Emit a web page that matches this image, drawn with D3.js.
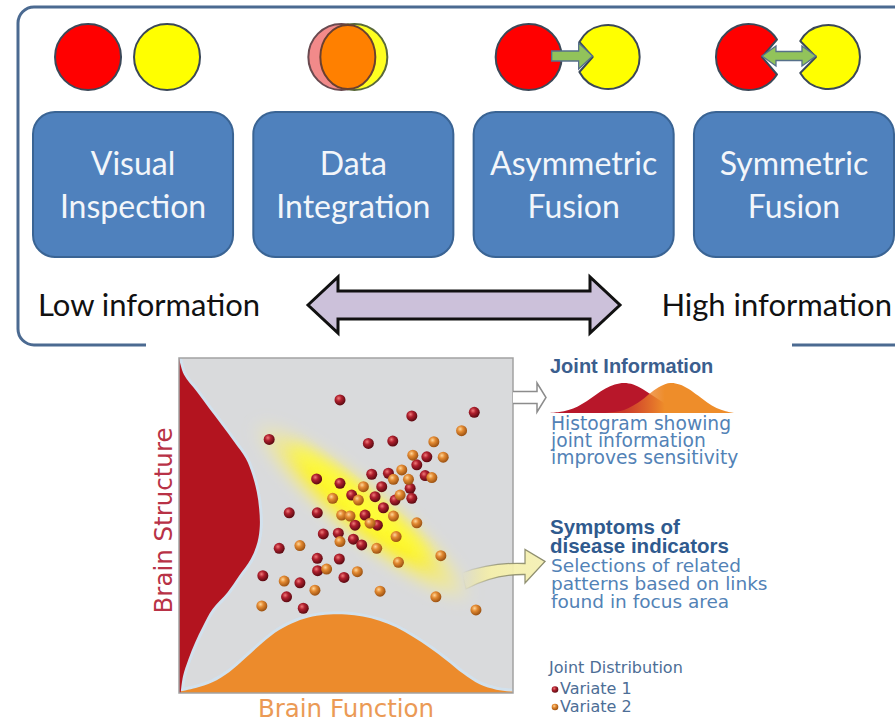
<!DOCTYPE html>
<html><head><meta charset="utf-8">
<script src="https://cdn.jsdelivr.net/npm/d3@7"></script>
<style>html,body{margin:0;padding:0;background:#fff;} svg{display:block;}</style>
</head><body>
<svg id="chart" width="895" height="718"></svg>
<script>
// ---------------- DATA ----------------
const stages = ["Visual Inspection", "Data Integration", "Asymmetric Fusion", "Symmetric Fusion"];
const stageLines = [["Visual", "Inspection"], ["Data", "Integration"], ["Asymmetric", "Fusion"], ["Symmetric", "Fusion"]];
const stageIcons = ["separate", "overlap", "asymmetric", "symmetric"];
const infoLabels = ["Low information", "High information"];

const axisLabels = {x: "Brain Function", y: "Brain Structure"};
const densityPos = [0,5,10,15,20,25,30,35,40,45,50,55,60,65,70,75,80,85,90,95,100];
const functionDensity = [0.4,1.5,3.2,6.2,10.5,15,18.8,21.3,22.8,23.4,23.4,22.8,21.6,19.6,16.8,13.5,9.8,5.8,2.6,1,0.4];
const structureDensity = [0.5,1.2,2.8,4.8,7.2,10,14.5,18,21.5,23.5,24.2,24,23.3,22,20,16.5,12.8,9,5.3,1.5,0];

const variate1 = [[48.2,87.5],[27.0,75.7],[56.7,74.5],[41.2,63.9],[48.2,62.6],[57.7,65.3],[51.7,59.1],[58.7,58.6],
  [33.0,53.8],[41.4,53.8],[55.7,53.1],[52.7,50.1],[59.4,50.1],[43.2,47.5],[47.7,47.7],[52.2,45.9],[54.7,44.2],
  [30.0,43.2],[41.4,40.2],[48.0,40.0],[41.5,36.5],[49.4,34.5],[25.1,35.0],[36.2,32.9],[32.2,28.7],[37.2,25.3],
  [69.7,82.7],[88.4,83.8],[64.0,75.2],[74.2,70.5],[71.2,68.1],[62.7,65.6],[73.7,64.9],[60.7,61.6],[69.2,61.1],
  [64.7,57.6],[69.7,58.1],[61.2,55.3]];
const variate2 = [[55.2,61.6],[53.7,57.6],[46.0,58.1],[48.7,53.1],[51.2,52.8],[57.2,50.7],[48.2,45.2],[59.2,43.2],
  [36.2,44.0],[44.2,37.0],[53.4,36.2],[31.5,33.4],[40.7,30.7],[24.8,26.0],[84.6,78.3],[76.3,75.0],[70.0,71.0],
  [79.1,70.4],[66.7,66.6],[64.2,63.8],[68.7,63.8],[75.7,64.3],[66.2,59.1],[64.2,52.8],[71.2,50.8],[65.0,46.7],
  [78.4,41.0],[65.7,39.0],[60.2,30.4],[76.9,28.7],[88.9,24.8]];
const focusBand = {from: [22, 81], to: [88, 27]};

const jointPos = [0,5,10,15,20,25,30,35,40,45,50,55,60,65,70,75,80,85,90,95,100];
const jointVariate1 = [0,0.03,0.1,0.22,0.4,0.62,0.82,0.95,1.0,0.95,0.8,0.6,0.4,0.22,0.1,0.03,0,0,0,0,0];
const jointVariate2 = [0,0,0,0,0,0,0,0.03,0.1,0.25,0.45,0.7,0.9,1.0,0.95,0.8,0.58,0.35,0.17,0.06,0];

const jointTitle = "Joint Information";
const jointText = ["Histogram showing", "joint information", "improves sensitivity"];
const symptomTitle = ["Symptoms of", "disease indicators"];
const symptomText = ["Selections of related", "patterns based on links", "found in focus area"];
const legendTitle = "Joint Distribution";
const legendItems = ["Variate 1", "Variate 2"];

// ---------------- DRAW ----------------
const svg = d3.select("#chart");
const defs = svg.append("defs");
svg.append("rect").attr("width", 895).attr("height", 718).attr("fill", "#fff");

// ---- top panel ----
svg.append("rect").attr("x", 18).attr("y", 7).attr("width", 905).attr("height", 338).attr("rx", 16)
  .attr("fill", "#fff").attr("stroke", "#4b6a91").attr("stroke-width", 3);

const xb = d3.scaleBand().domain(stages).range([33, 894]).paddingInner(0.092);
const bw = xb.bandwidth();
const cyIcon = 57, rIcon = 33;
const circleStroke = "#3b4858";

const stageG = svg.selectAll("g.stage").data(stages).join("g").attr("class", "stage");
stageG.append("rect").attr("x", d => xb(d)).attr("y", 112).attr("width", bw).attr("height", 145).attr("rx", 22)
  .attr("fill", "#4f81bd").attr("stroke", "#3a6494").attr("stroke-width", 2);
stageG.each(function(d, i) {
  const g = d3.select(this);
  const cx = xb(d) + bw / 2;
  stageLines[i].forEach((t, j) => {
    g.append("text").attr("x", cx).attr("y", 175 + j * 43).attr("text-anchor", "middle")
      .attr("font-family", "Lato, 'Open Sans', sans-serif").attr("font-size", 32).attr("fill", "#f3f6fa").text(t);
  });
});

function mouthPath(cx, cy, r, dir, halfDeg, depth) {
  const h = halfDeg * Math.PI / 180;
  const p = a => [cx + r * Math.cos(a), cy + r * Math.sin(a)];
  let p1, p2, sweep;
  if (dir < 0) { p1 = p(Math.PI + h); p2 = p(Math.PI - h); sweep = 1; }
  else { p1 = p(-h); p2 = p(h); sweep = 0; }
  return `M${p1[0]},${p1[1]} A${r},${r} 0 1 ${sweep} ${p2[0]},${p2[1]} L${cx + dir * depth},${cy} Z`;
}
const arrowLine = d3.line();
const greenFill = "#92c35a", greenStroke = "#56708a";

stageIcons.forEach((type, i) => {
  const c = xb(stages[i]) + bw / 2;
  const g = svg.append("g");
  const redX = c - 45, yelX = c + 34;
  if (type === "separate") {
    g.append("circle").attr("cx", redX).attr("cy", cyIcon).attr("r", rIcon).attr("fill", "#ff0000").attr("stroke", circleStroke).attr("stroke-width", 2);
    g.append("circle").attr("cx", yelX).attr("cy", cyIcon).attr("r", rIcon).attr("fill", "#ffff00").attr("stroke", circleStroke).attr("stroke-width", 2);
  } else if (type === "overlap") {
    g.append("circle").attr("cx", c - 12).attr("cy", cyIcon).attr("r", rIcon).attr("fill", "#f28a8a").attr("stroke", "#6a4a50").attr("stroke-width", 2);
    g.append("circle").attr("cx", c + 1).attr("cy", cyIcon).attr("r", rIcon).attr("fill", "#ffff20").attr("stroke", "#5a6a3a").attr("stroke-width", 2);
    g.append("ellipse").attr("cx", c - 5.5).attr("cy", cyIcon).attr("rx", 27.5).attr("ry", 32).attr("fill", "#ff8000").attr("stroke", "#6a4030").attr("stroke-width", 2);
  } else if (type === "asymmetric") {
    g.append("circle").attr("cx", redX).attr("cy", cyIcon).attr("r", rIcon).attr("fill", "#ff0000").attr("stroke", circleStroke).attr("stroke-width", 2);
    g.append("path").attr("d", mouthPath(yelX, cyIcon, 32, -1, 28, 15)).attr("fill", "#ffff00").attr("stroke", circleStroke).attr("stroke-width", 2).attr("stroke-linejoin", "round");
    const a0 = redX + 23, tip = yelX - 15, cy = cyIcon - 1;
    g.append("path").attr("d", arrowLine([[a0, cy - 5], [tip - 14, cy - 5], [tip - 14, cy - 13], [tip, cy], [tip - 14, cy + 13], [tip - 14, cy + 5], [a0, cy + 5]]) + "Z")
      .attr("fill", greenFill).attr("stroke", greenStroke).attr("stroke-width", 1.3);
  } else {
    g.append("path").attr("d", mouthPath(redX, cyIcon, rIcon, 1, 32, 13)).attr("fill", "#ff0000").attr("stroke", circleStroke).attr("stroke-width", 2).attr("stroke-linejoin", "round");
    g.append("path").attr("d", mouthPath(yelX, cyIcon, 32, -1, 30, 12)).attr("fill", "#ffff00").attr("stroke", circleStroke).attr("stroke-width", 2).attr("stroke-linejoin", "round");
    const l = redX + 13, r = yelX - 12, cy = cyIcon - 1;
    g.append("path").attr("d", arrowLine([[l, cy], [l + 14, cy - 10], [l + 14, cy - 4.5], [r - 14, cy - 4.5], [r - 14, cy - 10], [r, cy],
      [r - 14, cy + 10], [r - 14, cy + 4.5], [l + 14, cy + 4.5], [l + 14, cy + 10]]) + "Z")
      .attr("fill", greenFill).attr("stroke", greenStroke).attr("stroke-width", 1.3);
  }
});

// information double arrow
{
  const L = 308, R = 620, cy = 305, hh = 28, sh = 14, hl = 30;
  svg.append("path").attr("d", arrowLine([[L, cy], [L + hl, cy - hh], [L + hl, cy - sh], [R - hl, cy - sh], [R - hl, cy - hh], [R, cy],
    [R - hl, cy + hh], [R - hl, cy + sh], [L + hl, cy + sh], [L + hl, cy + hh]]) + "Z")
    .attr("fill", "#ccc1da").attr("stroke", "#111").attr("stroke-width", 3).attr("stroke-linejoin", "miter");
}
svg.append("text").attr("x", 38).attr("y", 316).attr("font-family", "Lato, sans-serif").attr("font-size", 31).attr("fill", "#111").text(infoLabels[0]);
svg.append("text").attr("x", 892).attr("y", 316).attr("text-anchor", "end").attr("font-family", "Lato, sans-serif").attr("font-size", 31).attr("fill", "#111").text(infoLabels[1]);

// ---- lower panel (covers the panel border) ----
svg.append("rect").attr("x", 146).attr("y", 340).attr("width", 646).attr("height", 378).attr("fill", "#fff");

const x = d3.scaleLinear().domain([0, 100]).range([179, 513]);
const y = d3.scaleLinear().domain([0, 100]).range([693, 358]);

defs.append("clipPath").attr("id", "plotClip").append("rect")
  .attr("x", x(0)).attr("y", y(100)).attr("width", x(100) - x(0)).attr("height", y(0) - y(100));

svg.append("rect").attr("x", x(0)).attr("y", y(100)).attr("width", x(100) - x(0)).attr("height", y(0) - y(100))
  .attr("fill", "#d9dadc");

const plot = svg.append("g").attr("clip-path", "url(#plotClip)");

// densities
const funcArea = d3.area().x((d, i) => x(densityPos[i])).y0(y(0)).y1(d => y(d)).curve(d3.curveCatmullRom);
const strArea = d3.area().y((d, i) => y(densityPos[i])).x0(x(0)).x1(d => x(d)).curve(d3.curveCatmullRom);
plot.append("path").attr("d", funcArea(functionDensity)).attr("fill", "none").attr("stroke", "#cfe2f1").attr("stroke-width", 6).attr("opacity", 0.8);
plot.append("path").attr("d", strArea(structureDensity)).attr("fill", "none").attr("stroke", "#cfe2f1").attr("stroke-width", 6).attr("opacity", 0.8);
plot.append("path").attr("d", funcArea(functionDensity)).attr("fill", "#ec8b2c");
plot.append("path").attr("d", strArea(structureDensity)).attr("fill", "#b3141f");

// focus glow
{
  const blur = defs.append("filter").attr("id", "glowBlur").attr("x", "-30%").attr("y", "-30%").attr("width", "160%").attr("height", "160%");
  blur.append("feGaussianBlur").attr("stdDeviation", 7);
  const rg = defs.append("radialGradient").attr("id", "glowGrad");
  rg.append("stop").attr("offset", "0%").attr("stop-color", "#ffff30").attr("stop-opacity", 1);
  rg.append("stop").attr("offset", "45%").attr("stop-color", "#fff000").attr("stop-opacity", 0.9);
  rg.append("stop").attr("offset", "80%").attr("stop-color", "#fff26a").attr("stop-opacity", 0.45);
  rg.append("stop").attr("offset", "100%").attr("stop-color", "#fff6a0").attr("stop-opacity", 0);
  const x1 = x(focusBand.from[0]), y1 = y(focusBand.from[1]), x2 = x(focusBand.to[0]), y2 = y(focusBand.to[1]);
  const cx = (x1 + x2) / 2, cy = (y1 + y2) / 2;
  const len = Math.hypot(x2 - x1, y2 - y1);
  const ang = Math.atan2(y2 - y1, x2 - x1) * 180 / Math.PI;
  plot.append("ellipse").attr("cx", cx).attr("cy", cy).attr("rx", len / 2).attr("ry", 30)
    .attr("transform", `rotate(${ang},${cx},${cy})`).attr("fill", "url(#glowGrad)").attr("filter", "url(#glowBlur)");
  plot.append("ellipse").attr("cx", cx - 8).attr("cy", cy - 6).attr("rx", len / 3.2).attr("ry", 11)
    .attr("transform", `rotate(${ang},${cx},${cy})`).attr("fill", "#ffff40").attr("opacity", 0.7).attr("filter", "url(#glowBlur)");
}

// sphere gradients
function sphere(id, hi, mid, lo) {
  const g = defs.append("radialGradient").attr("id", id).attr("cx", "38%").attr("cy", "35%").attr("r", "65%");
  g.append("stop").attr("offset", "0%").attr("stop-color", hi);
  g.append("stop").attr("offset", "40%").attr("stop-color", mid);
  g.append("stop").attr("offset", "100%").attr("stop-color", lo);
}
sphere("sphRed", "#f07a7a", "#b0202e", "#5c0a12");
sphere("sphOrange", "#ffd79a", "#e38a32", "#9c5212");

plot.selectAll("circle.v1").data(variate1).join("circle").attr("class", "v1")
  .attr("cx", d => x(d[0])).attr("cy", d => y(d[1])).attr("r", 5.5).attr("fill", "url(#sphRed)");
plot.selectAll("circle.v2").data(variate2).join("circle").attr("class", "v2")
  .attr("cx", d => x(d[0])).attr("cy", d => y(d[1])).attr("r", 5.5).attr("fill", "url(#sphOrange)");

// plot frame
svg.append("rect").attr("x", x(0)).attr("y", y(100)).attr("width", x(100) - x(0)).attr("height", y(0) - y(100))
  .attr("fill", "none").attr("stroke", "#a2a2a2").attr("stroke-width", 1.5);

// axis labels
svg.append("text").attr("x", (x(0) + x(100)) / 2).attr("y", 717).attr("text-anchor", "middle")
  .attr("font-family", "'DejaVu Sans', sans-serif").attr("font-size", 24.5).attr("fill", "#eb9a55").text(axisLabels.x);
svg.append("text").attr("transform", `translate(172,${(y(0) + y(100)) / 2 - 5}) rotate(-90)`).attr("text-anchor", "middle")
  .attr("font-family", "'DejaVu Sans', sans-serif").attr("font-size", 24.5).attr("fill", "#b83246").text(axisLabels.y);

// hollow arrow to joint information
{
  const x0 = x(100), cy = 397.5;
  svg.append("path").attr("d", arrowLine([[x0, cy - 6], [x0 + 24, cy - 6], [x0 + 24, cy - 14.5], [x0 + 33, cy], [x0 + 24, cy + 14.5], [x0 + 24, cy + 6], [x0, cy + 6]]))
    .attr("fill", "#fff").attr("stroke", "#8c8c8c").attr("stroke-width", 1.5).attr("stroke-linejoin", "miter");
}
// yellow curved arrow from focus area
{
  const lg = defs.append("linearGradient").attr("id", "yArrow").attr("x1", "0%").attr("x2", "100%");
  lg.append("stop").attr("offset", "0%").attr("stop-color", "#fff270").attr("stop-opacity", 0);
  lg.append("stop").attr("offset", "35%").attr("stop-color", "#f6f0a8").attr("stop-opacity", 0.9);
  lg.append("stop").attr("offset", "100%").attr("stop-color", "#f4f0b8").attr("stop-opacity", 1);
  const ls = defs.append("linearGradient").attr("id", "yArrowStroke").attr("x1", "0%").attr("x2", "100%");
  ls.append("stop").attr("offset", "0%").attr("stop-color", "#8a8a6a").attr("stop-opacity", 0);
  ls.append("stop").attr("offset", "45%").attr("stop-color", "#8a8a6a").attr("stop-opacity", 0.8);
  ls.append("stop").attr("offset", "100%").attr("stop-color", "#8a8a6a").attr("stop-opacity", 1);
  const hb = 525, tip = 545, ty = 561.5;
  const d = `M462,573 Q492,562 ${hb},563.5 L${hb},549.5 L${tip},${ty} L${hb},583 L${hb},574.5 Q494,574 466,589 Z`;
  svg.append("path").attr("d", d).attr("fill", "url(#yArrow)").attr("stroke", "url(#yArrowStroke)").attr("stroke-width", 1.3);
}

// joint information block
const ff = "'DejaVu Sans', sans-serif", fb = "'Liberation Sans', Arial, sans-serif";
svg.append("text").attr("x", 550).attr("y", 373).attr("font-family", fb).attr("font-weight", "bold").attr("font-size", 20)
  .attr("fill", "#3b5e8e").text(jointTitle);

const jx = d3.scaleLinear().domain([0, 100]).range([550, 735]);
const jy = d3.scaleLinear().domain([0, 1]).range([413, 383]);
const jArea = d3.area().x((d, i) => jx(jointPos[i])).y0(jy(0)).y1(d => jy(d)).curve(d3.curveCatmullRom);
const jg = defs.append("linearGradient").attr("id", "jOrange").attr("gradientUnits", "userSpaceOnUse").attr("x1", jx(40)).attr("x2", jx(62)).attr("y1", 0).attr("y2", 0);
jg.append("stop").attr("offset", "0%").attr("stop-color", "#e8702a").attr("stop-opacity", 0.4);
jg.append("stop").attr("offset", "100%").attr("stop-color", "#ee8d2a").attr("stop-opacity", 1);
svg.append("path").attr("d", jArea(jointVariate1)).attr("fill", "#b8172a");
svg.append("path").attr("d", jArea(jointVariate2)).attr("fill", "url(#jOrange)");

jointText.forEach((t, i) => svg.append("text").attr("x", 551).attr("y", 430 + i * 17).attr("font-family", ff).attr("font-size", 18.7).attr("fill", "#5282b6").text(t));
symptomTitle.forEach((t, i) => svg.append("text").attr("x", 550).attr("y", 534 + i * 19).attr("font-family", fb).attr("font-weight", "bold").attr("font-size", 20.5).attr("fill", "#2f5a8e").text(t));
symptomText.forEach((t, i) => svg.append("text").attr("x", 551).attr("y", 572 + i * 18.2).attr("font-family", ff).attr("font-size", 18.5).attr("fill", "#5282b6").text(t));

// legend
svg.append("text").attr("x", 549).attr("y", 673).attr("font-family", ff).attr("font-size", 16).attr("fill", "#4d6e96").text(legendTitle);
const legendFill = ["url(#sphRed)", "url(#sphOrange)"];
legendItems.forEach((t, i) => {
  const by = 694 + i * 17.5;
  svg.append("circle").attr("cx", 555).attr("cy", by - 4.5).attr("r", 3.3).attr("fill", legendFill[i]);
  svg.append("text").attr("x", 560).attr("y", by).attr("font-family", ff).attr("font-size", 16).attr("fill", "#4d6e96").text(t);
});
</script>
</body></html>
